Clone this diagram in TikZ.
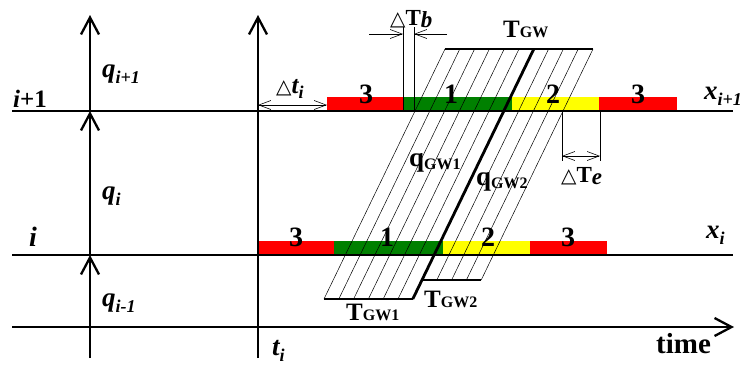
\documentclass[tikz,border=0pt]{standalone}
\usepackage{fontspec}
\setmainfont{Liberation Serif}
\newfontfamily\dejafont{DejaVu Sans}
\usetikzlibrary{arrows.meta}
\newcommand\fsz[1]{\fontsize{#1}{#1}\selectfont}
\newcommand\lowsub[2]{\raisebox{-#1}{#2}}
\newcommand\tri{{\dejafont\mdseries\upshape\fsz{20}△}}
\begin{document}
\begin{tikzpicture}[x=1pt,y=-1pt,
 axis/.style={line width=2.8pt},
 bigarrow/.style={-{Straight Barb[length=17pt,width=18pt,line width=2.3pt]}},
 thinline/.style={line width=0.7pt},
 dimarrow/.style={line width=0.6pt,-{Straight Barb[length=12pt,width=9pt,line width=0.6pt]}},
 dimboth/.style={line width=0.6pt,{Straight Barb[length=12pt,width=9pt,line width=0.6pt]}-{Straight Barb[length=12pt,width=9pt,line width=0.6pt]}},
 hatchline/.style={line width=0.5pt},
 lbl/.style={inner sep=0pt,anchor=base west,font=\bfseries\itshape\fsz{27}},
 ulbl/.style={inner sep=0pt,anchor=base west,font=\bfseries\fsz{24}},
 digit/.style={inner sep=0pt,anchor=base,font=\bfseries\fsz{28}},
]
\useasboundingbox (0,0) rectangle (743,365);
\definecolor{sigred}{RGB}{255,0,0}
\definecolor{siggreen}{RGB}{0,128,0}
\definecolor{sigyellow}{RGB}{255,255,0}

% signal bars, upper (i+1)
\fill[sigred]    (327,97) rectangle (403,111);
\fill[siggreen]  (403,97) rectangle (512,111);
\fill[sigyellow] (512,97) rectangle (599,111);
\fill[sigred]    (599,97) rectangle (677,111);
% signal bars, lower (i)
\fill[sigred]    (258,241) rectangle (334,255);
\fill[siggreen]  (334,241) rectangle (443,255);
\fill[sigyellow] (443,241) rectangle (530,255);
\fill[sigred]    (530,241) rectangle (607,255);

% hatch lines of the green wave band
\foreach \k in {0,...,6}{
  \draw[hatchline] ({445+14.8*\k},49) -- ({324+14.8*\k},299);
}
\foreach \k in {7,...,10}{
  \draw[hatchline] ({445+14.8*\k},49) -- ({445+14.8*\k-111.8},280);
}

% band borders
\coordinate (gwl) at (445,49);
\coordinate (gwr) at (593,49);
\coordinate (gwm) at (533.8,49);
\coordinate (g1l) at (324,299);
\coordinate (g1r) at (412.8,299);
\coordinate (g2l) at (423,280);
\coordinate (g2r) at (481,280);
\draw[axis] (gwl) -- (gwr);
\draw[axis] (g1l) -- (g1r);
\draw[line width=2.3pt] (g2l) -- (g2r);
\draw[axis] (g1r) -- (gwm);

% axes
\coordinate (l1a) at (12,111);  \coordinate (l1b) at (733,111);
\coordinate (l2a) at (12,255);  \coordinate (l2b) at (733,255);
\coordinate (l3a) at (12,327);  \coordinate (l3b) at (734,327);
\draw[axis] (l1a) -- (l1b);
\draw[axis] (l2a) -- (l2b);
\draw[axis,bigarrow] (l3a) -- (l3b);

\coordinate (qa) at (90,358);
\coordinate (qb) at (90,255);
\coordinate (qc) at (90,111);
\coordinate (qd) at (90,15);
\draw[axis,bigarrow] (qa) -- (qb);
\draw[axis,bigarrow] (qb) -- (qc);
\draw[axis,bigarrow] (qc) -- (qd);

\coordinate (ta) at (258,358);
\coordinate (tb) at (258,15);
\draw[axis,bigarrow] (ta) -- (tb);

% delta t_i
\coordinate (dta) at (258,105);
\coordinate (dtb) at (327,105);
\draw[dimboth] (dta) -- (dtb);

% delta T_b
\coordinate (tbv1a) at (403,27); \coordinate (tbv1b) at (403,111);
\coordinate (tbv2a) at (414,27); \coordinate (tbv2b) at (414,111);
\draw[thinline] (tbv1a) -- (tbv1b);
\draw[thinline] (tbv2a) -- (tbv2b);
\coordinate (tbl) at (369,34); \coordinate (tbr) at (447,34);
\coordinate (tbx1) at (403,34); \coordinate (tbx2) at (414,34);
\draw[dimarrow] (tbl) -- (tbx1);
\draw[dimarrow] (tbr) -- (tbx2);

% delta T_e
\coordinate (tev1a) at (562,111); \coordinate (tev1b) at (562,161);
\coordinate (tev2a) at (600,111); \coordinate (tev2b) at (600,161);
\draw[thinline] (tev1a) -- (tev1b);
\draw[thinline] (tev2a) -- (tev2b);
\coordinate (tex1) at (562,156); \coordinate (tex2) at (600,156);
\draw[dimboth] (tex1) -- (tex2);

% digits on bars
\node[digit] (u3a) at (366,103) {3};
\node[digit] (u1)  at (451,103) {1};
\node[digit] (u2)  at (553,103) {2};
\node[digit] (u3b) at (638,103) {3};
\node[digit] (d3a) at (296,246) {3};
\node[digit] (d1)  at (387,246) {1};
\node[digit] (d2)  at (488,246) {2};
\node[digit] (d3b) at (568,246) {3};

% axis labels
\node[lbl] (qip1) at (102,77) {q\lowsub{6pt}{\fsz{18}i+1}};
\node[lbl] (qi)   at (102,199) {q\lowsub{6pt}{\fsz{18}i}};
\node[lbl] (qim1) at (102,306) {q\lowsub{6pt}{\fsz{18}i-1}};
\node[lbl,font=\bfseries\itshape\fsz{25}] (lip1) at (13,107) {i\upshape+1};
\node[lbl,font=\bfseries\itshape\fsz{28}] (li) at (29,246) {i};
\node[lbl] (lti) at (272,355) {t\lowsub{6pt}{\fsz{18}i}};
\node[lbl] (xip1) at (704,99) {x\lowsub{6pt}{\fsz{18}i+1}};
\node[lbl] (xi) at (706,238) {x\lowsub{6pt}{\fsz{18}i}};
\node[ulbl,font=\bfseries\fsz{29}] (time) at (656,353) {time};
\node[lbl,font=\bfseries\fsz{25}] (dti) at (276,93) {\tri\itshape t\lowsub{5pt}{\fsz{18}i}};

% band labels
\node[ulbl,font=\bfseries\fsz{25}] (tgw) at (503,37) {T{\fsz{16}GW}};
\node[ulbl,font=\bfseries\fsz{25}] (tgw1) at (346,320) {T{\fsz{16}GW1}};
\node[ulbl,font=\bfseries\fsz{25}] (tgw2) at (424,307) {T{\fsz{16}GW2}};
\node[ulbl,font=\bfseries\fsz{27}] (qgw1) at (409,166) {q\lowsub{3pt}{\fsz{16}GW1}};
\node[ulbl,font=\bfseries\fsz{27}] (qgw2) at (476,185) {q\lowsub{3pt}{\fsz{16}GW2}};
\node[ulbl,font=\bfseries\fsz{23}] (dtb) at (390,25) {\tri T\lowsub{2pt}{\itshape b}};
\node[ulbl,font=\bfseries\fsz{23}] (dte) at (561,182) {\tri T\lowsub{2pt}{\itshape e}};
\end{tikzpicture}
\end{document}
